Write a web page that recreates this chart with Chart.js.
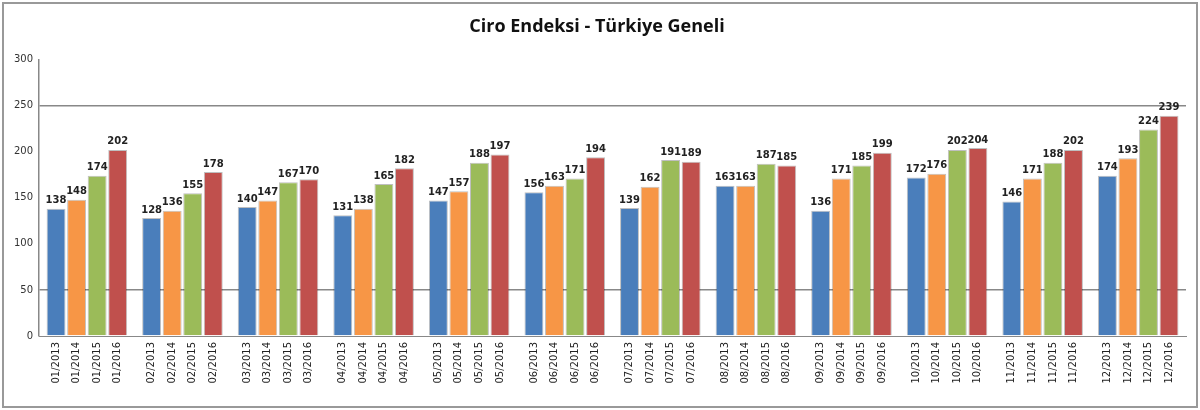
<!DOCTYPE html>
<html>
<head>
<meta charset="utf-8">
<script src="https://cdn.jsdelivr.net/npm/chart.js@4/dist/chart.umd.min.js"></script>
<style>
  html, body { margin: 0; padding: 0; background: #fff; }
  #wrap { width: 1196px; height: 406px; border: 2px solid #999; box-sizing: border-box; margin: 2px; }
</style>
</head>
<body>
<div id="wrap"><canvas id="chart" width="1192" height="402"></canvas></div>
<script>
// ----- Données -----
const months = ['01', '02', '03', '04', '05', '06', '07', '08', '09', '10', '11', '12'];
const years = ['2013', '2014', '2015', '2016'];
const v2013 = [138, 128, 140, 131, 147, 156, 139, 163, 136, 172, 146, 174];
const v2014 = [148, 136, 147, 138, 157, 163, 162, 163, 171, 176, 171, 193];
const v2015 = [174, 155, 167, 165, 188, 171, 191, 187, 185, 202, 188, 224];
const v2016 = [202, 178, 170, 182, 197, 194, 189, 185, 199, 204, 202, 239];
const yTicks = [0, 50, 100, 150, 200, 250, 300];

const colors = ['#4a7ebb', '#f79646', '#9bbb59', '#c0504d'];
const series = [v2013, v2014, v2015, v2016];

// étiquettes par barre + valeurs au-dessus
const barLabels = {
  id: 'barLabels',
  afterDatasetsDraw(chart) {
    const ctx = chart.ctx;
    ctx.save();
    chart.data.datasets.forEach((ds, di) => {
      chart.getDatasetMeta(di).data.forEach((bar, i) => {
        ctx.fillStyle = '#222';
        ctx.font = 'bold 10px "DejaVu Sans"';
        ctx.textAlign = 'center';
        ctx.textBaseline = 'bottom';
        ctx.fillText(ds.data[i], bar.x, bar.y - 3);
        ctx.save();
        ctx.translate(bar.x, chart.chartArea.bottom + 6);
        ctx.rotate(-Math.PI / 2);
        ctx.textAlign = 'right';
        ctx.textBaseline = 'middle';
        ctx.font = '10px "DejaVu Sans"';
        ctx.fillText(months[i] + '/' + years[di], 0, 0);
        ctx.restore();
      });
    });
    ctx.restore();
  }
};

new Chart(document.getElementById('chart'), {
  type: 'bar',
  data: {
    labels: months,
    datasets: series.map((d, k) => ({
      label: years[k],
      data: d,
      backgroundColor: colors[k],
      borderColor: 'rgba(0,0,0,0.25)',
      borderWidth: 1,
      categoryPercentage: 0.86,
      barPercentage: 0.92
    }))
  },
  options: {
    responsive: false,
    animation: false,
    layout: { padding: { left: 4, right: 10, top: 4, bottom: 62 } },
    plugins: {
      legend: { display: false },
      tooltip: { enabled: false },
      title: {
        display: true,
        text: 'Ciro Endeksi - Türkiye Geneli',
        font: { family: 'Open Sans', size: 18, weight: 'bold' },
        color: '#111',
        padding: { top: 8, bottom: 22 }
      }
    },
    scales: {
      x: {
        ticks: { display: false },
        grid: { display: false },
        border: { color: '#888', width: 1 }
      },
      y: {
        min: 0,
        max: 300,
        afterBuildTicks: axis => { axis.ticks = yTicks.map(v => ({ value: v })); },
        ticks: { font: { family: 'DejaVu Sans', size: 10 }, color: '#333', padding: 6 },
        grid: {
          color: c => (c.tick.value === 50 || c.tick.value === 250) ? '#888' : 'rgba(0,0,0,0)',
          lineWidth: 1.5,
          drawTicks: false
        },
        border: { color: '#888', width: 1.5 }
      }
    }
  },
  plugins: [barLabels]
});
</script>
</body>
</html>
